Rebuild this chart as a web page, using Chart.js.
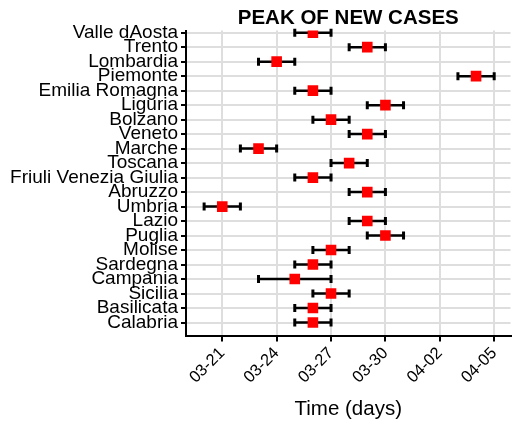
<!DOCTYPE html>
<html>
<head>
<meta charset="utf-8">
<script src="https://cdn.jsdelivr.net/npm/chart.js@4/dist/chart.umd.min.js"></script>
<style>
  body { margin: 0; background: #fff; }
  #wrap { width: 518px; height: 428px; }
</style>
</head>
<body>
<div id="wrap"><canvas id="peak" width="518" height="428"></canvas></div>
<script>
"use strict";
// regions, top to bottom
var regions = ['Valle dAosta', 'Trento', 'Lombardia', 'Piemonte', 'Emilia Romagna', 'Liguria',
    'Bolzano', 'Veneto', 'Marche', 'Toscana', 'Friuli Venezia Giulia', 'Abruzzo', 'Umbria',
    'Lazio', 'Puglia', 'Molise', 'Sardegna', 'Campania', 'Sicilia', 'Basilicata', 'Calabria'];

// peak day and its interval (mm-dd)
var peakDay = ['03-26', '03-29', '03-24', '04-04', '03-26', '03-30', '03-27', '03-29', '03-23', '03-28',
    '03-26', '03-29', '03-21', '03-29', '03-30', '03-27', '03-26', '03-25', '03-27', '03-26', '03-26'];
var lowDay = ['03-25', '03-28', '03-23', '04-03', '03-25', '03-29', '03-26', '03-28', '03-22', '03-27',
    '03-25', '03-28', '03-20', '03-28', '03-29', '03-26', '03-25', '03-23', '03-26', '03-25', '03-25'];
var highDay = ['03-27', '03-30', '03-25', '04-05', '03-27', '03-31', '03-28', '03-30', '03-24', '03-29',
    '03-27', '03-30', '03-22', '03-30', '03-31', '03-28', '03-27', '03-27', '03-28', '03-27', '03-27'];

var tickLabels = ['03-21', '03-24', '03-27', '03-30', '04-02', '04-05'];

// mm-dd -> day number counted from 1 March
var toDay = (s) => {
    var p = s.split('-');
    return (p[0] === '04' ? 31 : 0) + parseInt(p[1], 10);
};

var FONT = "'Liberation Sans', Arial, sans-serif";
Chart.defaults.color = '#000';
Chart.defaults.font.family = FONT;

var points = regions.map((r, i) => ({x: toDay(peakDay[i]), y: i, lo: toDay(lowDay[i]), hi: toDay(highDay[i])}));

// whiskers drawn under the squares
var errorBars = {
    id: 'errorBars',
    beforeDatasetsDraw: (chart) => {
        var ctx = chart.ctx, xs = chart.scales.x, ys = chart.scales.y;
        ctx.save();
        ctx.strokeStyle = '#000';
        points.forEach((p) => {
            var y = ys.getPixelForValue(p.y),
                x1 = xs.getPixelForValue(p.lo),
                x2 = xs.getPixelForValue(p.hi);
            ctx.lineWidth = 2.5;
            ctx.beginPath();
            ctx.moveTo(x1, y);
            ctx.lineTo(x2, y);
            ctx.stroke();
            ctx.lineWidth = 3;
            ctx.beginPath();
            ctx.moveTo(x1, y - 4);
            ctx.lineTo(x1, y + 4);
            ctx.moveTo(x2, y - 4);
            ctx.lineTo(x2, y + 4);
            ctx.stroke();
        });
        ctx.restore();
    }
};

new Chart(document.getElementById('peak'), {
    type: 'scatter',
    data: {
        datasets: [{
            data: points,
            pointStyle: 'rect',
            pointRadius: 7.5,
            pointHoverRadius: 7.5,
            backgroundColor: '#ff0000',
            borderColor: '#ff0000',
            borderWidth: 0
        }]
    },
    plugins: [errorBars],
    options: {
        responsive: false,
        animation: false,
        layout: {padding: {left: 0, right: 0, top: 0, bottom: 6}},
        plugins: {
            legend: {display: false},
            tooltip: {enabled: false},
            title: {
                display: true,
                text: 'PEAK OF NEW CASES',
                fullSize: false,
                font: {size: 20.5, weight: 'bold', family: FONT, lineHeight: 1},
                color: '#000',
                padding: {top: 8, bottom: 2}
            }
        },
        scales: {
            x: {
                type: 'linear',
                min: 19,
                max: 36.9,
                afterBuildTicks: (axis) => {
                    axis.ticks = tickLabels.map((t) => ({value: toDay(t)}));
                },
                ticks: {
                    minRotation: 45,
                    maxRotation: 45,
                    autoSkip: false,
                    padding: 2,
                    font: {size: 16.5},
                    callback: (v) => {
                        var i = tickLabels.map(toDay).indexOf(v);
                        return i >= 0 ? tickLabels[i] : '';
                    }
                },
                grid: {
                    color: '#dedede',
                    lineWidth: 2,
                    tickColor: '#000',
                    tickWidth: 2,
                    tickLength: 6
                },
                border: {color: '#000', width: 2},
                title: {
                    display: true,
                    text: 'Time (days)',
                    font: {size: 20.5},
                    padding: {top: 8, bottom: 0}
                }
            },
            y: {
                type: 'linear',
                reverse: true,
                min: -0.15,
                max: 20.9,
                afterBuildTicks: (axis) => {
                    axis.ticks = regions.map((r, i) => ({value: i}));
                },
                afterFit: (axis) => {
                    axis.width = 186;
                },
                ticks: {
                    autoSkip: false,
                    padding: 3,
                    font: {size: 19, lineHeight: 1},
                    callback: (v) => regions[v]
                },
                grid: {
                    color: '#dedede',
                    lineWidth: 2,
                    tickColor: '#000',
                    tickWidth: 2,
                    tickLength: 5
                },
                border: {color: '#000', width: 2}
            }
        }
    }
});
</script>
</body>
</html>
